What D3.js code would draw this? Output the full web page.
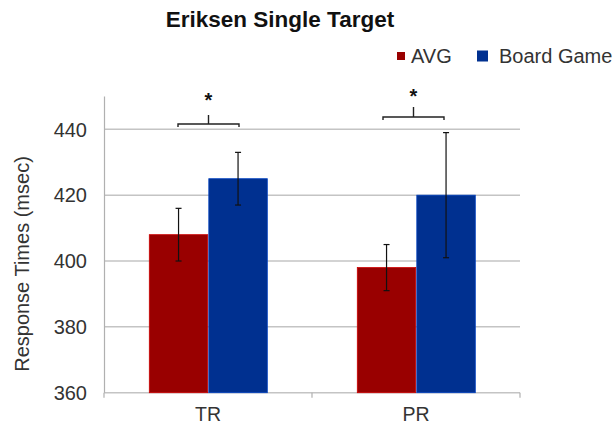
<!DOCTYPE html>
<html><head><meta charset="utf-8">
<script src="https://cdn.jsdelivr.net/npm/d3@7"></script>
<style>body{margin:0;background:#fff}svg{display:block}text{font-family:"Liberation Sans",Arial,sans-serif}</style>
</head><body>
<script>
const categories = ["TR", "PR"];
const seriesNames = ["AVG", "Board Game"];
const avgValues = [408, 398];
const avgErrors = [8, 7];
const boardValues = [425, 420];
const boardErrors = [8, 19];
const yTicks = [360, 380, 400, 420, 440];
const colors = ["#990000", "#003090"];

const W = 615, H = 427;
const svg = d3.select("body").append("svg").attr("width", W).attr("height", H);

const x0 = d3.scaleBand().domain(categories).range([104, 520]).paddingInner(0).paddingOuter(0);
const x1 = d3.scaleBand().domain(seriesNames).range([45.3, 163.3]).paddingInner(0.017).paddingOuter(0);
const y = d3.scaleLinear().domain([360, 450]).range([392.7, 96.4]);

// gridlines
svg.append("g").selectAll("line").data(yTicks).join("line")
  .attr("x1", 104).attr("x2", 520).attr("y1", d => y(d)).attr("y2", d => y(d))
  .attr("stroke", "#c4c4c4").attr("stroke-width", 1.5);

// y axis line
svg.append("line").attr("x1", 104.5).attr("x2", 104.5).attr("y1", y(450)).attr("y2", y(360))
  .attr("stroke", "#b0b0b0").attr("stroke-width", 1.2);

// x tick marks
const xb = [104, 312, 520];
svg.append("g").selectAll("line").data(xb).join("line")
  .attr("x1", d => d).attr("x2", d => d).attr("y1", y(360)).attr("y2", y(360) + 5)
  .attr("stroke", "#b0b0b0").attr("stroke-width", 1.2);

// y labels
svg.append("g").selectAll("text").data(yTicks).join("text")
  .attr("x", 87).attr("y", d => y(d)).attr("dy", "0.36em").attr("text-anchor", "end")
  .attr("font-size", 20).attr("fill", "#333").text(d => d);

// y title
svg.append("text").attr("transform", `translate(29,${264}) rotate(-90)`)
  .attr("text-anchor", "middle").attr("font-size", 20).attr("fill", "#333")
  .text("Response Times (msec)");

// x labels
svg.append("g").selectAll("text").data(categories).join("text")
  .attr("x", d => x0(d) + x0.bandwidth() / 2).attr("y", 421).attr("text-anchor", "middle")
  .attr("font-size", 19.5).attr("fill", "#333").text(d => d);

const data = categories.map((c, i) => ({
  cat: c,
  vals: [
    {s: seriesNames[0], v: avgValues[i], e: avgErrors[i], c: colors[0]},
    {s: seriesNames[1], v: boardValues[i], e: boardErrors[i], c: colors[1]}
  ]
}));

const groups = svg.append("g").selectAll("g").data(data).join("g")
  .attr("transform", d => `translate(${x0(d.cat)},0)`);

groups.selectAll("rect").data(d => d.vals).join("rect")
  .attr("x", d => x1(d.s)).attr("width", x1.bandwidth())
  .attr("y", d => y(d.v)).attr("height", d => y(360) - y(d.v))
  .attr("fill", d => d.c).attr("stroke", d => d3.color(d.c).brighter(0.8)).attr("stroke-width", 0.8);

// error bars
const eb = groups.selectAll("g.eb").data(d => d.vals).join("g").attr("class", "eb");
eb.append("line")
  .attr("x1", d => x1(d.s) + x1.bandwidth() / 2).attr("x2", d => x1(d.s) + x1.bandwidth() / 2)
  .attr("y1", d => y(d.v + d.e)).attr("y2", d => y(d.v - d.e))
  .attr("stroke", "#111").attr("stroke-width", 1.2);
eb.selectAll("line.cap").data(d => [d.v + d.e, d.v - d.e].map(v => ({v, xc: x1(d.s) + x1.bandwidth() / 2})))
  .join("line").attr("class", "cap")
  .attr("x1", d => d.xc - 3).attr("x2", d => d.xc + 3)
  .attr("y1", d => y(d.v)).attr("y2", d => y(d.v))
  .attr("stroke", "#111").attr("stroke-width", 1.2);

// significance brackets
const sig = [
  {cat: "TR", x1: 178, x2: 239, yl: 124, tick: 9, star: 107},
  {cat: "PR", x1: 383, x2: 444, yl: 117, tick: 10, star: 103}
];
sig.forEach(s => {
  const cx = (s.x1 + s.x2) / 2;
  svg.append("path")
    .attr("d", `M${s.x1},${s.yl + 3} L${s.x1},${s.yl} L${s.x2},${s.yl} L${s.x2},${s.yl + 3} M${cx},${s.yl} L${cx},${s.yl - s.tick}`)
    .attr("fill", "none").attr("stroke", "#222").attr("stroke-width", 1.4);
  svg.append("text").attr("x", cx).attr("y", s.star).attr("text-anchor", "middle")
    .attr("font-size", 20).attr("font-weight", "bold").attr("fill", "#111").text("*");
});

// title
svg.append("text").attr("x", 280).attr("y", 27).attr("text-anchor", "middle")
  .attr("font-size", 22.5).attr("font-weight", "bold").attr("fill", "#111").text("Eriksen Single Target");

// legend
const leg = [
  {name: seriesNames[0], c: colors[0], x: 397, tx: 411, size: 8},
  {name: seriesNames[1], c: colors[1], x: 477, tx: 499, size: 11}
];
leg.forEach(l => {
  svg.append("rect").attr("x", l.x).attr("y", 56 - l.size / 2).attr("width", l.size).attr("height", l.size).attr("fill", l.c);
  svg.append("text").attr("x", l.tx).attr("y", 63).attr("font-size", 20).attr("fill", "#333").text(l.name);
});
</script>
</body></html>
